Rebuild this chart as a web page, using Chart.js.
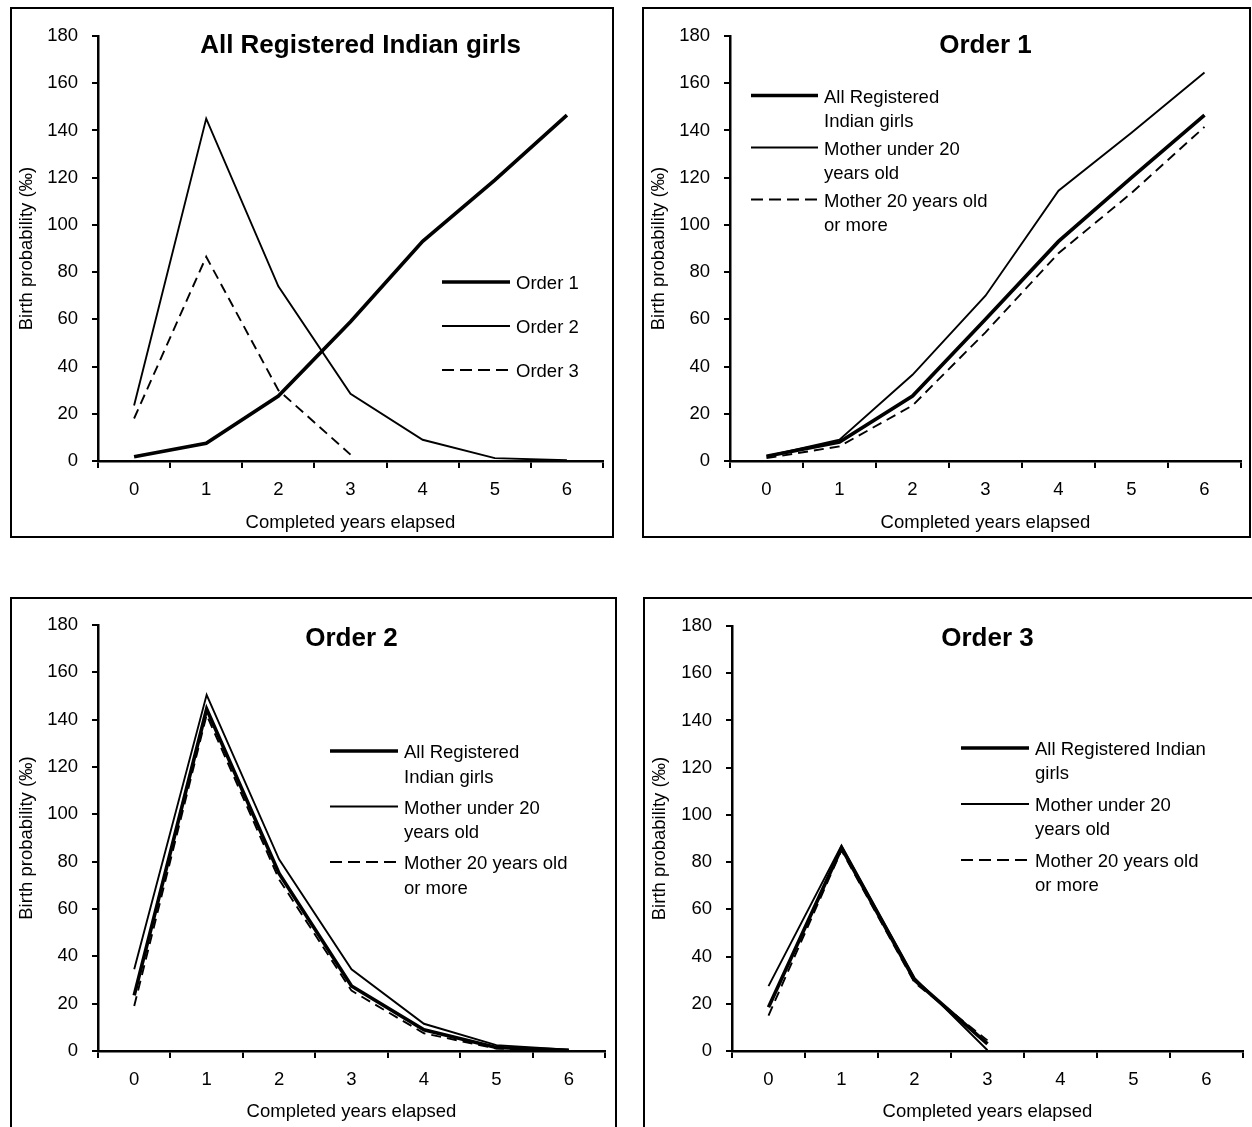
<!DOCTYPE html>
<html>
<head>
<meta charset="utf-8">
<script src="https://cdn.jsdelivr.net/npm/chart.js@4.4.0/dist/chart.umd.min.js"></script>
<style>
    body { margin: 0; background: #fff; overflow: hidden; width: 1252px; height: 1127px; position: relative; }
    .panel { position: absolute; border: 2px solid #000; box-sizing: border-box; background: #fff; }
    .panel canvas { display: block; }
</style>
</head>
<body>
<div class="panel" style="left:10px; top:7px; width:604px; height:531px;"><canvas id="c1" width="600" height="527"></canvas></div>
<div class="panel" style="left:642px; top:7px; width:609px; height:531px;"><canvas id="c2" width="605" height="527"></canvas></div>
<div class="panel" style="left:10px; top:597px; width:607px; height:560px;"><canvas id="c3" width="603" height="528"></canvas></div>
<div class="panel" style="left:643px; top:597px; width:640px; height:560px;"><canvas id="c4" width="607" height="528"></canvas></div>
<script>
const years = ['0', '1', '2', '3', '4', '5', '6'];

// All Registered Indian girls, by birth order
const allOrder1 = [1.8, 7.5, 27.5, 59, 93, 119, 146.5];
const allOrder2 = [23.5, 145, 74, 28.5, 9, 1.2, 0.3];
const allOrder3 = [18, 86.5, 30, 2.7, null, null, null];

// Order 1
const o1All = [2, 8, 27.5, 60, 93, 120, 146.5];
const o1Under20 = [2, 9, 36.5, 70, 114.5, 139, 164.5];
const o1Over20 = [1.2, 6.2, 23.5, 54.5, 88, 113.5, 141.5];

// Order 2
const o2All = [23.5, 144.5, 75, 27.5, 9, 1.5, 0.3];
const o2Under20 = [34.5, 150.5, 81, 34.5, 11.5, 2.5, 0.5];
const o2Over20 = [19, 142, 72.5, 25.5, 7.5, 1, 0.2];

// Order 3
const o3All = [18.5, 86, 30, 3, null, null, null];
const o3Under20 = [27.5, 87, 31, 0.3, null, null, null];
const o3Over20 = [15, 85, 29, 4.5, null, null, null];

const FONT = '"Liberation Sans", Arial, sans-serif';
const THICK = 3.6;
const THIN = 1.9;
const DASH = [10, 6];

// draws the in-plot title and the legend (legend text can wrap over two lines)
const panelDecor = {
    id: 'panelDecor',
    afterDraw(chart, args, opts) {
        const { ctx, chartArea } = chart;
        ctx.save();
        ctx.fillStyle = '#000';
        ctx.strokeStyle = '#000';
        ctx.font = 'bold 26px ' + FONT;
        ctx.textAlign = 'center';
        ctx.textBaseline = 'middle';
        ctx.fillText(opts.title, (chartArea.left + chartArea.right) / 2 + (opts.titleDx || 0), chartArea.top + opts.titleDy);

        const lg = opts.legend;
        ctx.font = '18.5px ' + FONT;
        ctx.textAlign = 'left';
        chart.data.datasets.forEach((ds, i) => {
            const y0 = chartArea.top + lg.y + i * lg.itemGap;
            const x0 = chartArea.left + lg.x;
            ctx.beginPath();
            ctx.lineWidth = ds.borderWidth;
            ctx.setLineDash(ds.borderDash ? [12, 6] : []);
            ctx.moveTo(x0, y0 - 2);
            ctx.lineTo(x0 + lg.lineLen, y0 - 2);
            ctx.stroke();
            ctx.setLineDash([]);
            ds.label.split('\n').forEach((t, j) => {
                ctx.fillText(t, x0 + lg.lineLen + 6, y0 + j * lg.lineGap);
            });
        });
        ctx.restore();
    }
};

function line(label, data, width, dashed) {
    return {
        label,
        data,
        borderColor: '#000',
        borderWidth: width,
        borderDash: dashed ? DASH : undefined,
        pointRadius: 0,
        pointHoverRadius: 0,
        tension: 0,
        fill: false,
        clip: false,
        spanGaps: false
    };
}

function makeChart(id, datasets, deco, layout) {
    const ctx = document.getElementById(id).getContext('2d');
    return new Chart(ctx, {
        type: 'line',
        data: { labels: years, datasets },
        plugins: [panelDecor],
        options: {
            responsive: false,
            animation: false,
            events: [],
            layout: { padding: { top: layout.top, right: layout.right, left: 0, bottom: 0 } },
            plugins: {
                legend: { display: false },
                tooltip: { enabled: false },
                panelDecor: deco
            },
            scales: {
                x: {
                    offset: true,
                    grid: { offset: true, drawOnChartArea: false, drawTicks: true, tickLength: 7, color: '#000', lineWidth: 2 },
                    border: { display: true, color: '#000', width: 2.5 },
                    ticks: { color: '#000', font: { family: FONT, size: 18.5 }, padding: 11, maxRotation: 0 },
                    title: { display: true, text: 'Completed years elapsed', color: '#000', font: { family: FONT, size: 18.5 }, padding: { top: 0, bottom: layout.titleBottom } },
                    afterFit(scale) { scale.height = layout.xHeight; }
                },
                y: {
                    min: 0,
                    max: 180,
                    grid: { drawOnChartArea: false, drawTicks: true, tickLength: 6, color: '#000', lineWidth: 2 },
                    border: { display: true, color: '#000', width: 2.5 },
                    ticks: { stepSize: 20, color: '#000', font: { family: FONT, size: 18.5 }, padding: 14 },
                    title: { display: true, text: 'Birth probability (‰)', color: '#000', font: { family: FONT, size: 18.5 }, padding: { top: 4, bottom: 0 } },
                    afterFit(scale) { scale.width = layout.yWidth; }
                }
            }
        }
    });
}

makeChart('c1', [
    line('Order 1', allOrder1, THICK, false),
    line('Order 2', allOrder2, THIN, false),
    line('Order 3', allOrder3, THIN, true)
], {
    title: 'All Registered Indian girls', titleDx: 10, titleDy: 10,
    legend: { x: 344, y: 248, lineLen: 68, itemGap: 44, lineGap: 24.5 }
}, { top: 27, right: 9, yWidth: 86, xHeight: 75, titleBottom: 2 });

makeChart('c2', [
    line('All Registered\nIndian girls', o1All, THICK, false),
    line('Mother under 20\nyears old', o1Under20, THIN, false),
    line('Mother 20 years old\nor more', o1Over20, THIN, true)
], {
    title: 'Order 1', titleDy: 10,
    legend: { x: 21, y: 61.5, lineLen: 67, itemGap: 52, lineGap: 24.5 }
}, { top: 27, right: 8, yWidth: 86, xHeight: 75, titleBottom: 2 });

makeChart('c3', [
    line('All Registered\nIndian girls', o2All, THICK, false),
    line('Mother under 20\nyears old', o2Under20, THIN, false),
    line('Mother 20 years old\nor more', o2Over20, THIN, true)
], {
    title: 'Order 2', titleDy: 14,
    legend: { x: 232, y: 128, lineLen: 68, itemGap: 55.5, lineGap: 24.5 }
}, { top: 26, right: 10, yWidth: 86, xHeight: 76, titleBottom: 4 });

makeChart('c4', [
    line('All Registered Indian\ngirls', o3All, THICK, false),
    line('Mother under 20\nyears old', o3Under20, THIN, false),
    line('Mother 20 years old\nor more', o3Over20, THIN, true)
], {
    title: 'Order 3', titleDy: 13,
    legend: { x: 229, y: 124, lineLen: 68, itemGap: 56, lineGap: 24 }
}, { top: 27, right: 9, yWidth: 87, xHeight: 76, titleBottom: 4 });
</script>
</body>
</html>
